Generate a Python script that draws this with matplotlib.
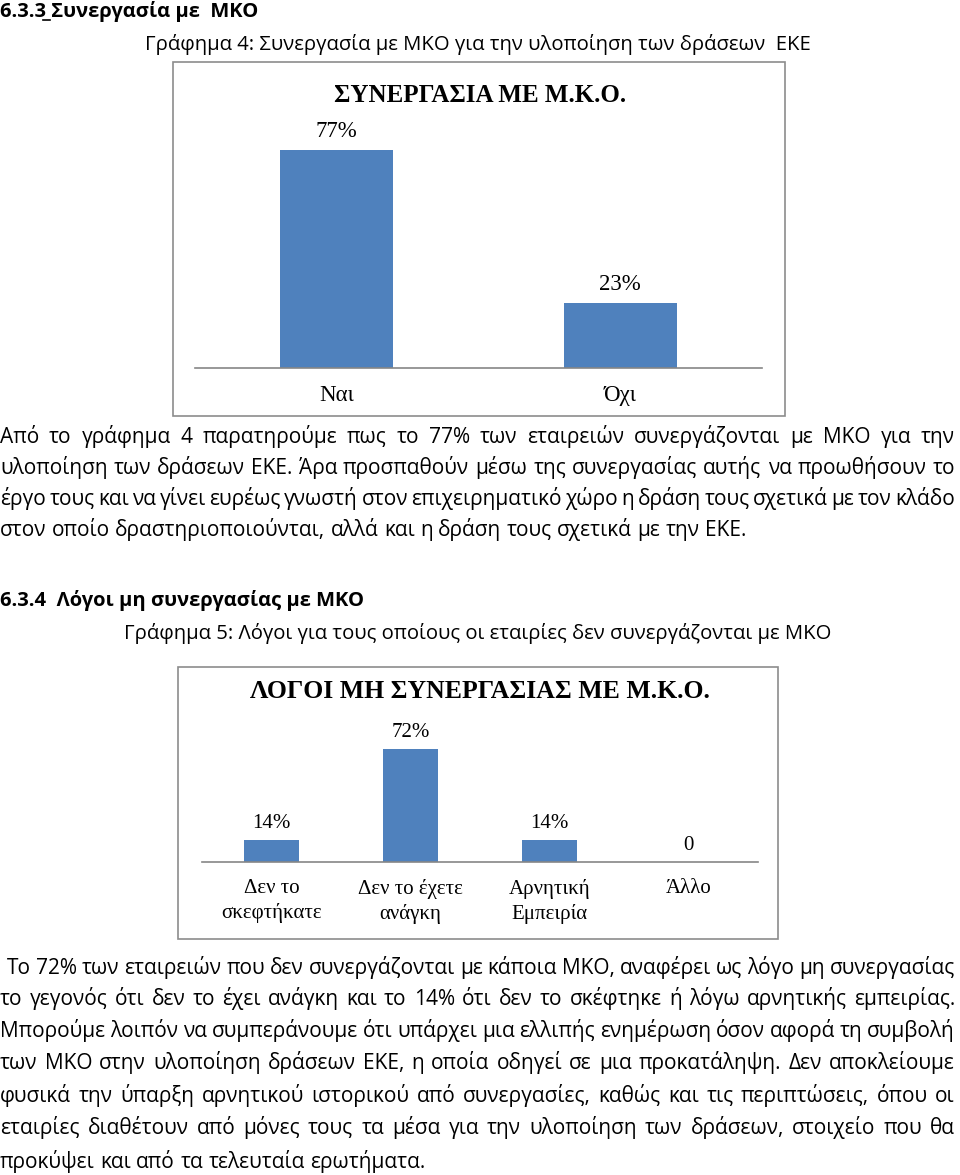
import matplotlib
matplotlib.use("Agg")
import matplotlib.pyplot as plt
from matplotlib.patches import Rectangle

# ---- data ----
cats1 = ["Ναι", "Όχι"]
vals1 = [77, 23]
lbls1 = ["77%", "23%"]
title1 = "ΣΥΝΕΡΓΑΣΙΑ ΜΕ Μ.Κ.Ο."

cats2 = ["Δεν το\nσκεφτήκατε", "Δεν το έχετε\nανάγκη", "Αρνητική\nΕμπειρία", "Άλλο"]
vals2 = [14, 72, 14, 0]
lbls2 = ["14%", "72%", "14%", "0"]
title2 = "ΛΟΓΟΙ ΜΗ ΣΥΝΕΡΓΑΣΙΑΣ ΜΕ Μ.Κ.Ο."

head1 = "6.3.3 Συνεργασία με  ΜΚΟ"
cap1 = "Γράφημα 4: Συνεργασία με ΜΚΟ για την υλοποίηση των δράσεων  ΕΚΕ"
head2 = "6.3.4  Λόγοι μη συνεργασίας με ΜΚΟ"
cap2 = "Γράφημα 5: Λόγοι για τους οποίους οι εταιρίες δεν συνεργάζονται με ΜΚΟ"

par1 = [
    "Από το γράφημα  4 παρατηρούμε πως το 77% των εταιρειών συνεργάζονται με ΜΚΟ για την",
    "υλοποίηση των δράσεων ΕΚΕ. Άρα προσπαθούν μέσω της συνεργασίας αυτής να προωθήσουν το",
    "έργο τους και να γίνει ευρέως γνωστή στον επιχειρηματικό χώρο η δράση τους σχετικά με τον κλάδο",
    "στον οποίο δραστηριοποιούνται, αλλά και η δράση τους σχετικά με την ΕΚΕ.",
]
par2 = [
    "Το 72% των εταιρειών που δεν συνεργάζονται με κάποια ΜΚΟ, αναφέρει ως λόγο μη συνεργασίας",
    "το γεγονός ότι  δεν το έχει ανάγκη και το 14% ότι δεν το σκέφτηκε ή λόγω αρνητικής εμπειρίας.",
    "Μπορούμε λοιπόν να συμπεράνουμε ότι υπάρχει μια ελλιπής ενημέρωση όσον αφορά τη συμβολή",
    "των ΜΚΟ στην υλοποίηση δράσεων ΕΚΕ, η οποία οδηγεί σε μια προκατάληψη. Δεν αποκλείουμε",
    "φυσικά την ύπαρξη αρνητικού ιστορικού από συνεργασίες, καθώς και τις περιπτώσεις, όπου οι",
    "εταιρίες διαθέτουν από μόνες τους τα μέσα για την υλοποίηση των δράσεων, στοιχείο που θα",
    "προκύψει και από τα τελευταία ερωτήματα.",
]

W, H = 960, 1175
BAR = "#4F81BD"
GRID = "#868686"
SANS = ["Open Sans", "DejaVu Sans"]
SERIF = ["Liberation Serif", "DejaVu Serif"]

fig = plt.figure(figsize=(W / 100, H / 100), dpi=100)
fig.patch.set_facecolor("white")


def fx(x):
    return x / W


def fy(y):
    return 1 - y / H


def box(x0, y0, x1, y1):
    fig.add_artist(Rectangle((fx(x0), fy(y1)), fx(x1 - x0), (y1 - y0) / H,
                             transform=fig.transFigure, fill=False,
                             edgecolor="#8c8c8c", lw=1.2))


def bar_chart(ax, cats, vals, lbls, ymax, fs, off):
    x = range(len(cats))
    ax.bar(x, vals, width=0.4, color=BAR)
    for xi, v, l in zip(x, vals, lbls):
        ax.annotate(l, (xi, v), xytext=(0, off), textcoords="offset points",
                    ha="center", va="bottom", family=SERIF, fontsize=fs)
    ax.set_xlim(-0.5, len(cats) - 0.5)
    ax.set_ylim(0, ymax)
    ax.set_xticks(list(x))
    ax.set_xticklabels(cats, family=SERIF, fontsize=fs, linespacing=1.35)
    ax.tick_params(axis="x", length=0, pad=12)
    ax.set_yticks([])
    for s in ["top", "left", "right"]:
        ax.spines[s].set_visible(False)
    ax.spines["bottom"].set_color(GRID)
    ax.spines["bottom"].set_linewidth(1.2)
    ax.set_facecolor("none")


# chart 1
box(173, 62, 785, 416)
ax1 = fig.add_axes([fx(195), fy(368), fx(762 - 195), (368 - 110) / H])
bar_chart(ax1, cats1, vals1, lbls1, 258 / 2.83, 16.5, 6)
fig.text(fx(480), fy(95), title1, ha="center", va="center",
         family=SERIF, fontsize=18, fontweight="bold")

# chart 2
box(178, 667, 778, 939)
ax2 = fig.add_axes([fx(202), fy(862), fx(758 - 202), (862 - 710) / H])
bar_chart(ax2, cats2, vals2, lbls2, 152 / 1.57, 15, 5)
fig.text(fx(480), fy(691), title2, ha="center", va="center",
         family=SERIF, fontsize=18.5, fontweight="bold")

# headings and captions
fig.text(0, fy(17), head1, ha="left", va="baseline", family=SANS,
         fontsize=14.5, fontweight="bold")
fig.add_artist(plt.Line2D([fx(43), fx(50)], [fy(20), fy(20)],
                          transform=fig.transFigure, color="black", lw=1.2))
fig.text(fx(478), fy(50), cap1, ha="center", va="baseline", family=SANS, fontsize=14.6)
fig.text(0, fy(606), head2, ha="left", va="baseline", family=SANS,
         fontsize=14.5, fontweight="bold")
fig.text(fx(478), fy(639), cap2, ha="center", va="baseline", family=SANS, fontsize=14.6)

renderer = fig.canvas.get_renderer()


def line_text(s, x0, x1, y, justify, fs=15):
    words = s.split()
    ts = [fig.text(0, fy(y), w, ha="left", va="baseline", family=SANS, fontsize=fs)
          for w in words]
    ws = [t.get_window_extent(renderer).width for t in ts]
    if justify and len(words) > 1:
        gap = (x1 - x0 - sum(ws)) / (len(words) - 1)
    else:
        sp = fig.text(0, 0, "a a", family=SANS, fontsize=fs)
        sa = fig.text(0, 0, "aa", family=SANS, fontsize=fs)
        gap = sp.get_window_extent(renderer).width - sa.get_window_extent(renderer).width
        sp.remove()
        sa.remove()
    x = x0
    for t, w in zip(ts, ws):
        t.set_x(fx(x))
        x += w + gap


ys1 = [443, 474, 505, 536]
for i, (s, y) in enumerate(zip(par1, ys1)):
    line_text(s, 0, 955, y, i < len(par1) - 1)

ys2 = [974, 1005, 1037, 1069, 1102, 1134, 1168]
for i, (s, y) in enumerate(zip(par2, ys2)):
    line_text(s, 7 if i == 0 else 0, 955, y, i < len(par2) - 1)

fig.savefig("out.png", dpi=100, facecolor="white")
